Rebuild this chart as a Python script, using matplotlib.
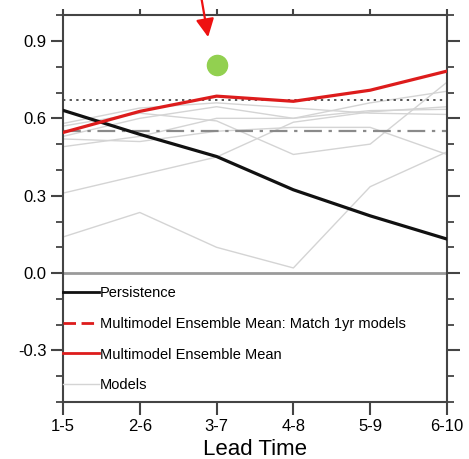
import matplotlib.pyplot as plt
from matplotlib.ticker import MultipleLocator

plt.rcParams['font.family'] = ['Liberation Sans', 'DejaVu Sans']

lead_times = ["1-5", "2-6", "3-7", "4-8", "5-9", "6-10"]
persistence = [0.631, 0.538, 0.452, 0.323, 0.222, 0.132]
mme = [0.545, 0.627, 0.686, 0.666, 0.709, 0.783]
mme_match_1yr = [0.549] * 6
mme_ref_dotted = [0.670] * 6
models = [
    [0.14, 0.235, 0.10, 0.02, 0.335, 0.47],
    [0.31, 0.38, 0.45, 0.585, 0.625, 0.645],
    [0.57, 0.62, 0.59, 0.46, 0.50, 0.74],
    [0.49, 0.53, 0.60, 0.60, 0.63, 0.635],
    [0.52, 0.51, 0.55, 0.565, 0.565, 0.46],
    [0.53, 0.60, 0.645, 0.60, 0.66, 0.705],
    [0.58, 0.64, 0.66, 0.64, 0.62, 0.615],
]
dot_xy = (2.0, 0.806)
arrow_tip = (1.89, 0.915)
arrow_tail = (1.80, 1.07)

x = list(range(len(lead_times)))

fig = plt.figure(figsize=(4.69, 4.59), dpi=100)
ax = fig.add_axes([0.1343, 0.124, 0.8187, 0.843])

for m in models:
    ax.plot(x, m, color='#d4d4d4', lw=1.0, zorder=1)
ax.axhline(0.0, color='#9a9a9a', lw=2.0, zorder=1)
ax.plot(x, mme_ref_dotted, color='#555555', lw=1.4, ls=(0, (1.2, 2.2)), zorder=2)
ax.plot(x, mme_match_1yr, color='#8a8a8a', lw=1.6, ls=(0, (8, 3, 1.5, 3)), zorder=2)
ax.plot(x, persistence, color='#111111', lw=2.3, zorder=3)
ax.plot(x, mme, color='#dd1c1c', lw=2.3, zorder=4)

ax.plot(*dot_xy, 'o', color='#92d050', markersize=14.5, zorder=5)
ax.annotate('', xy=arrow_tip, xytext=arrow_tail, annotation_clip=False,
            arrowprops=dict(arrowstyle='-|>,head_length=1.1,head_width=0.55',
                            color='#ee1111', lw=1.6, shrinkA=0, shrinkB=0))

# legend handles only
h1, = ax.plot([], [], color='#111111', lw=2.0)
h2, = ax.plot([], [], color='#dd1c1c', lw=2.0, ls=(0, (4.5, 2)))
h3, = ax.plot([], [], color='#dd1c1c', lw=2.0)
h4, = ax.plot([], [], color='#d4d4d4', lw=1.0)
ax.legend([h1, h2, h3, h4],
          ["Persistence", "Multimodel Ensemble Mean: Match 1yr models",
           "Multimodel Ensemble Mean", "Models"],
          loc='upper left', bbox_to_anchor=(0.0, 0.30), frameon=False,
          fontsize=10.5, handlelength=2.5, handletextpad=0.05,
          labelspacing=1.15, borderpad=0, borderaxespad=0)

ax.set_xlim(0, 5)
ax.set_ylim(-0.5, 1.0)
ax.set_xticks(x)
ax.set_xticklabels(lead_times)
ax.yaxis.set_minor_locator(MultipleLocator(0.1))
ax.set_yticks([0.9, 0.6, 0.3, 0.0, -0.3])
ax.set_yticklabels(["0.9", "0.6", "0.3", "0.0", "-0.3"])
ax.set_xlabel("Lead Time", fontsize=16, labelpad=4)

for s in ax.spines.values():
    s.set_color('#444444')
    s.set_linewidth(1.5)
ax.tick_params(axis='both', which='major', direction='out', length=9, width=1.5,
               color='#444444', labelsize=12, pad=3)
ax.tick_params(axis='y', which='both', right=True)
ax.tick_params(axis='y', which='minor', direction='out', length=5, width=1.3,
               color='#444444')

# short ticks along the top edge
top = ax.secondary_xaxis('top')
top.set_xticks(x)
top.set_xticklabels([])
top.tick_params(direction='out', length=4, width=1.5, color='#444444')
top.spines['top'].set_visible(False)

fig.savefig('out.png', dpi=100)
